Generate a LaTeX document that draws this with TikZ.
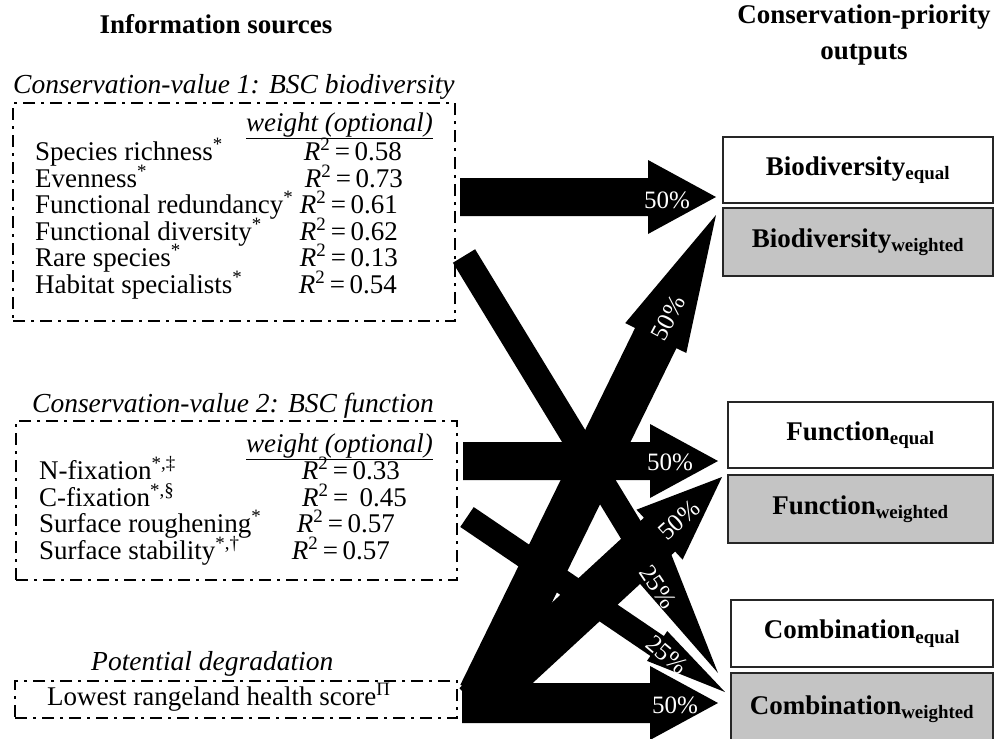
\documentclass[tikz,border=0pt]{standalone}
\usepackage{fontspec}
\setmainfont{Liberation Serif}
\usetikzlibrary{calc}

\definecolor{wtgray}{RGB}{196,196,196}

\tikzset{
  head/.style={inner sep=0pt, font=\fontsize{27}{36}\selectfont\bfseries},
  ttl/.style={anchor=base west, inner sep=0pt, font=\fontsize{27.5}{28}\selectfont\itshape},
  item/.style={anchor=base west, inner sep=0pt, font=\fontsize{27}{27}\selectfont},
  rsq/.style={anchor=base east, inner sep=0pt, font=\fontsize{27}{27}\selectfont},
  srcbox/.style={draw, line width=2.6pt, dash pattern=on 12pt off 6pt on 3pt off 6pt},
  outbox/.style={draw=black!85, line width=2.5pt, inner sep=0pt, font=\fontsize{27}{27}\selectfont\bfseries},
  pct/.style={text=white, inner sep=0pt, font=\fontsize{25}{25}\selectfont},
}

\newcommand{\Rsq}[1]{\textit{R}\textsuperscript{2}\,=\,#1}
% fat arrow: start, tip, half shaft, half head, head length
\newcommand{\fatarrow}[5]{%
  \coordinate (hb) at ($(#2)!#5!(#1)$);
  \fill ($(#1)!#3!90:(#2)$) -- ($(hb)!#3!90:(#2)$) -- ($(hb)!#4!90:(#2)$) -- (#2)
    -- ($(hb)!#4!-90:(#2)$) -- ($(hb)!#3!-90:(#2)$) -- ($(#1)!#3!-90:(#2)$) -- cycle;}

\begin{document}
\begin{tikzpicture}[x=1pt,y=-1pt]
  \useasboundingbox (0,0) rectangle (997,739);

  % headings
  \node[head] (hsrc) at (216,24) {Information sources};
  \node[head,align=center] (hout) at (864,35) {Conservation-priority\\outputs};

  % source boxes
  \node[srcbox,minimum width=442pt,minimum height=218pt] (bsc1) at (234,212) {};
  \node[srcbox,minimum width=441pt,minimum height=159pt] (bsc2) at (236.5,500.5) {};
  \node[srcbox,minimum width=442pt,minimum height=37pt] (degr) at (236,699.5) {};

  \node[ttl] (t1) at (13,93) {Conservation-value 1: BSC biodiversity};
  \node[ttl] (t2) at (32,412) {Conservation-value 2: BSC function};
  \node[ttl] (t3) at (91,670) {Potential degradation};

  % value 1
  \node[rsq] (w1) at (433,131) {\underline{\textit{weight (optional)}}};
  \node[item] (sr) at (35,160) {Species richness\textsuperscript{*}};
  \node[item] (ev) at (35,187) {Evenness\textsuperscript{*}};
  \node[item] (fr) at (35,213) {Functional redundancy\textsuperscript{*}};
  \node[item] (fd) at (35,240) {Functional diversity\textsuperscript{*}};
  \node[item] (rs) at (35,266) {Rare species\textsuperscript{*}};
  \node[item] (hs) at (35,293) {Habitat specialists\textsuperscript{*}};
  \node[rsq] (rsr) at (402,160) {\Rsq{0.58}};
  \node[rsq] (rev) at (403,187) {\Rsq{0.73}};
  \node[rsq] (rfr) at (398,213) {\Rsq{0.61}};
  \node[rsq] (rfd) at (398,240) {\Rsq{0.62}};
  \node[rsq] (rrs) at (398,266) {\Rsq{0.13}};
  \node[rsq] (rhs) at (397,293) {\Rsq{0.54}};

  % value 2
  \node[rsq] (w2) at (433,452) {\underline{\textit{weight (optional)}}};
  \node[item] (nf) at (39,479) {N-fixation\textsuperscript{*,‡}};
  \node[item] (cf) at (39,506) {C-fixation\textsuperscript{*,§}};
  \node[item] (sf) at (39,532) {Surface roughening\textsuperscript{*}};
  \node[item] (ss) at (39,559) {Surface stability\textsuperscript{*,†}};
  \node[rsq] (rnf) at (400,479) {\Rsq{0.33}};
  \node[rsq] (rcf) at (407,506) {\Rsq{\ 0.45}};
  \node[rsq] (rsf) at (395,532) {\Rsq{0.57}};
  \node[rsq] (rss) at (390,559) {\Rsq{0.57}};

  % degradation
  \node[item] (lr) at (47,705) {Lowest rangeland health score\textsuperscript{Π}};

  % outputs
  \node[outbox,minimum width=270pt,minimum height=66pt] (bioeq) at (858,170) {Biodiversity\textsubscript{equal}};
  \node[outbox,fill=wtgray,minimum width=270pt,minimum height=68pt] (biowt) at (858,242) {Biodiversity\textsubscript{weighted}};
  \node[outbox,minimum width=265pt,minimum height=66pt] (funeq) at (860.5,435) {Function\textsubscript{equal}};
  \node[outbox,fill=wtgray,minimum width=265pt,minimum height=68pt] (funwt) at (860.5,509) {Function\textsubscript{weighted}};
  \node[outbox,minimum width=262pt,minimum height=67pt] (comeq) at (862,633.5) {Combination\textsubscript{equal}};
  \node[outbox,fill=wtgray,minimum width=262pt,minimum height=72pt] (comwt) at (862,709) {Combination\textsubscript{weighted}};

  % arrow ends
  \coordinate (s1) at (460,197); \coordinate (e1) at (716,197);% bsc1 to bioeq
  \coordinate (s2) at (481,695); \coordinate (e2) at (716,215);% degr to biowt
  \coordinate (s3) at (463,461); \coordinate (e3) at (718,461);% bsc2 to funeq
  \coordinate (s4) at (475,705); \coordinate (e4) at (722,477);% degr to funwt
  \coordinate (s5) at (464,256); \coordinate (e5) at (718,673);% bsc1 to comwt
  \coordinate (s6) at (467,517); \coordinate (e6) at (725,692);% bsc2 to comwt
  \coordinate (s7) at (462,703); \coordinate (e7) at (718,703);% degr to comwt

  \fatarrow{s1}{e1}{19pt}{37pt}{68pt}
  \fatarrow{s3}{e3}{19pt}{37pt}{68pt}
  \fatarrow{s7}{e7}{20pt}{37pt}{68pt}
  \fatarrow{s5}{e5}{13pt}{22pt}{127pt}
  \fatarrow{s6}{e6}{12pt}{18pt}{82pt}
  \fatarrow{s2}{e2}{23pt}{34pt}{137pt}
  \fatarrow{s4}{e4}{23pt}{34pt}{85pt}

  % percentages
  \node[pct] (p1) at (667,200) {50\%};
  \node[pct,rotate=62] (p2) at (668,318) {50\%};
  \node[pct] (p3) at (670,462) {50\%};
  \node[pct,rotate=42] (p4) at (679,520) {50\%};
  \node[pct,rotate=-56] (p5) at (658,587) {25\%};
  \node[pct,rotate=-40] (p6) at (667,655) {25\%};
  \node[pct] (p7) at (675,705) {50\%};
\end{tikzpicture}
\end{document}
